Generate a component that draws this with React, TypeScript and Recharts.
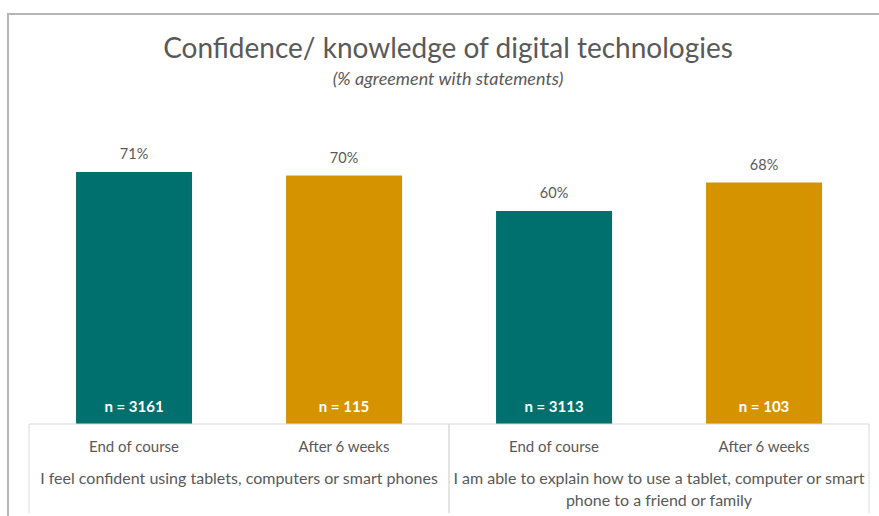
import React from 'react';
import { BarChart, Bar, XAxis, YAxis, Cell, LabelList } from 'recharts';

const categories = ['End of course', 'After 6 weeks', 'End of course', 'After 6 weeks'];
const statementOfBar = [0, 0, 1, 1];
const statements = [
  ['I feel confident using tablets, computers or smart phones'],
  ['I am able to explain how to use a tablet, computer or smart', 'phone to a friend or family'],
];
const agreement = [71, 70, 60, 68];
const sampleSizes = [3161, 115, 3113, 103];

const COLORS = ['#00706F', '#D69300', '#00706F', '#D69300'];
const TEXT = '#595959';
const FONT = 'Lato, "Noto Sans", sans-serif';

const W = 879;
const H = 516;
const MARGIN = { top: 140, right: 10, bottom: 0, left: 29 };
const BAND = (W - MARGIN.left - MARGIN.right) / categories.length;

const data = categories.map((c, i) => ({
  name: c,
  value: agreement[i],
  n: sampleSizes[i],
  statement: statementOfBar[i],
}));

const AxisTick = (props: any) => {
  const { x, y, index } = props;
  const half = BAND / 2;
  const row = data[index];
  const firstOfGroup = index === 0 || data[index - 1].statement !== row.statement;
  const lastOfGroup = index === data.length - 1 || data[index + 1].statement !== row.statement;
  const lines = statements[row.statement];
  return (
    <g>
      {firstOfGroup && <line x1={x - half} x2={x - half} y1={y} y2={y + 89} stroke="#d9d9d9" />}
      {lastOfGroup && <line x1={x + half} x2={x + half} y1={y} y2={y + 89} stroke="#d9d9d9" />}
      <text x={x} y={y + 28} textAnchor="middle" fill={TEXT} fontSize={15} fontFamily={FONT}>
        {row.name}
      </text>
      {lastOfGroup &&
        lines.map((l, k) => (
          <text
            key={k}
            x={x - half}
            y={y + 60 + k * 22}
            textAnchor="middle"
            fill={TEXT}
            fontSize={16}
            fontFamily={FONT}
          >
            {l}
          </text>
        ))}
    </g>
  );
};

const ValueLabel = (props: any) => {
  const { x, y, width, value } = props;
  return (
    <text x={x + width / 2} y={y - 13} textAnchor="middle" fill={TEXT} fontSize={14.5} fontFamily={FONT}>
      {`${value}%`}
    </text>
  );
};

const NLabel = (props: any) => {
  const { x, y, width, height, value } = props;
  return (
    <text
      x={x + width / 2}
      y={y + height - 12}
      textAnchor="middle"
      fill="#ffffff"
      fontSize={15}
      fontWeight="bold"
      fontFamily={FONT}
    >
      {`n = ${value}`}
    </text>
  );
};

export default function App() {
  return (
    <div style={{ position: 'absolute', left: 0, top: 0, width: W, height: H, overflow: 'hidden', background: '#fff' }}>
      <div
        style={{
          position: 'absolute',
          left: 7,
          top: 13,
          width: W,
          height: H,
          borderTop: '2px solid #b5b5b5',
          borderLeft: '2px solid #b5b5b5',
        }}
      />
      <svg width={W} height={H} style={{ position: 'absolute', left: 0, top: 0 }}>
        <text x={448} y={58} textAnchor="middle" fill={TEXT} fontSize={28} fontFamily={FONT}>
          Confidence/ knowledge of digital technologies
        </text>
        <text x={448} y={85} textAnchor="middle" fill={TEXT} fontSize={18} fontStyle="italic" fontFamily={FONT}>
          (% agreement with statements)
        </text>
      </svg>
      <div style={{ position: 'absolute', left: 0, top: 0 }}>
        <BarChart width={W} height={H} data={data} margin={MARGIN} barCategoryGap="22.4%">
          <XAxis
            dataKey="name"
            height={92}
            axisLine={{ stroke: '#d9d9d9' }}
            tickLine={false}
            tickSize={0}
            tickMargin={0}
            interval={0}
            tick={<AxisTick />}
          />
          <YAxis hide domain={[0, 80]} />
          <Bar dataKey="value" isAnimationActive={false}>
            {data.map((_, i) => (
              <Cell key={`cell-${i}`} fill={COLORS[i % COLORS.length]} />
            ))}
            <LabelList dataKey="value" content={<ValueLabel />} />
            <LabelList dataKey="n" content={<NLabel />} />
          </Bar>
        </BarChart>
      </div>
    </div>
  );
}
